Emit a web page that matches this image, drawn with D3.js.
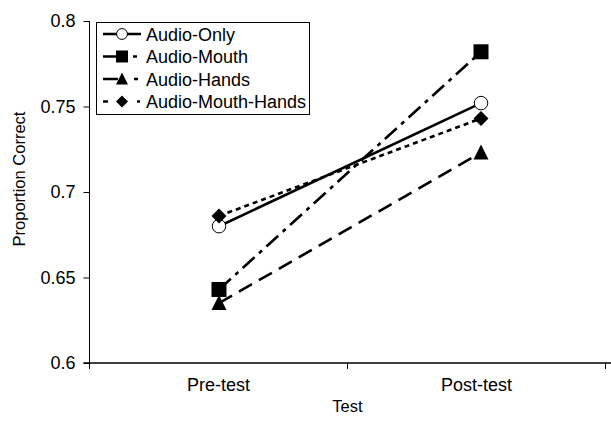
<!DOCTYPE html>
<html><head><meta charset="utf-8">
<script src="https://cdn.jsdelivr.net/npm/d3@7"></script>
<style>body{margin:0;background:#fff}svg{display:block;font-family:"Liberation Sans",Arial,sans-serif}</style>
</head><body>
<script>
const categories = ["Pre-test", "Post-test"];
const seriesNames = ["Audio-Only", "Audio-Mouth", "Audio-Hands", "Audio-Mouth-Hands"];
const audioOnly = [0.680, 0.752];
const audioMouth = [0.643, 0.782];
const audioHands = [0.635, 0.723];
const audioMouthHands = [0.686, 0.743];
const yTicks = [0.6, 0.65, 0.7, 0.75, 0.8];

const W = 611, H = 421;
const svg = d3.select("body").append("svg").attr("width", W).attr("height", H);

const plot = {left: 89.5, right: 605.5, top: 21, bottom: 363};
const y = d3.scaleLinear().domain([0.6, 0.8]).range([plot.bottom, plot.top]);
const xb = d3.scaleBand().domain(categories).range([plot.left, plot.right]);
const xp = d3.scalePoint().domain(categories).range([219, 481]);

// axes
const yAxis = d3.axisLeft(y).tickValues(yTicks).tickSize(6).tickPadding(8)
  .tickFormat(d => d3.format("")(+d.toFixed(2)));
const gy = svg.append("g").attr("transform", `translate(${plot.left},0)`).call(yAxis);
gy.select(".domain").attr("d", `M0,${plot.top}V${plot.bottom}`);
gy.selectAll("text").attr("font-size", 18).attr("font-family", "Liberation Sans, Arial, sans-serif").attr("fill", "#000");
gy.selectAll("line").attr("stroke", "#000");

const gx = svg.append("g").attr("transform", `translate(0,${plot.bottom})`);
gx.append("line").attr("x1", plot.left - 6).attr("x2", W).attr("y1", 0).attr("y2", 0).attr("stroke", "#000").attr("stroke-width", 1.3);
const bounds = categories.map(c => xb(c)).concat([xb(categories[categories.length-1]) + xb.bandwidth()]);
gx.selectAll(".tk").data(bounds).join("line").attr("x1", d => d).attr("x2", d => d)
  .attr("y1", 0).attr("y2", 6).attr("stroke", "#000");
gx.selectAll(".lb").data(categories).join("text")
  .attr("x", d => xb(d) + xb.bandwidth()/2).attr("y", 28).attr("text-anchor", "middle")
  .attr("font-size", 18).text(d => d);

svg.append("text").attr("x", (plot.left + plot.right)/2).attr("y", 412).attr("text-anchor", "middle")
  .attr("font-size", 16.5).text("Test");
svg.append("text").attr("transform", "translate(25,179) rotate(-90)").attr("text-anchor", "middle")
  .attr("font-size", 16.5).text("Proportion Correct");

const series = [
  {name: seriesNames[0], values: audioOnly, dash: null, legDash: null, marker: "circle"},
  {name: seriesNames[1], values: audioMouth, dash: "16,6,4,6", legDash: "16,14,4,30", marker: "square"},
  {name: seriesNames[2], values: audioHands, dash: "15,8", legDash: "15,16,4,30", marker: "triangle"},
  {name: seriesNames[3], values: audioMouthHands, dash: "5,4", legDash: "5,29,3,30", marker: "diamond"}
];

function drawMarker(g, type, cx, cy, s) {
  if (type === "circle") {
    g.append("circle").attr("cx", cx).attr("cy", cy).attr("r", s*0.45).attr("fill", "#fff").attr("stroke", "#000").attr("stroke-width", 1);
  } else if (type === "square") {
    g.append("rect").attr("x", cx - s/2).attr("y", cy - s/2).attr("width", s).attr("height", s).attr("fill", "#000");
  } else if (type === "triangle") {
    g.append("path").attr("d", `M${cx},${cy - s*0.55}L${cx + s/2},${cy + s*0.45}L${cx - s/2},${cy + s*0.45}Z`).attr("fill", "#000");
  } else {
    const r = s*0.5;
    g.append("path").attr("d", `M${cx},${cy - r}L${cx + r},${cy}L${cx},${cy + r}L${cx - r},${cy}Z`).attr("fill", "#000");
  }
}

const line = d3.line().x((d, i) => xp(categories[i])).y(d => y(d));
const gl = svg.append("g");
series.forEach(s => {
  gl.append("path").datum(s.values).attr("d", line).attr("fill", "none").attr("stroke", "#000")
    .attr("stroke-width", 2.6).attr("stroke-dasharray", s.dash);
});
const gm = svg.append("g");
series.forEach(s => {
  s.values.forEach((v, i) => drawMarker(gm, s.marker, xp(categories[i]), y(v), 15));
});

// legend
const lg = svg.append("g");
lg.append("rect").attr("x", 96.5).attr("y", 22.5).attr("width", 213).attr("height", 92)
  .attr("fill", "#fff").attr("stroke", "#000").attr("stroke-width", 1);
series.forEach((s, i) => {
  const cy = 34 + i * 22.5;
  lg.append("line").attr("x1", 103).attr("x2", 141).attr("y1", cy).attr("y2", cy)
    .attr("stroke", "#000").attr("stroke-width", 2.4).attr("stroke-dasharray", s.legDash);
  drawMarker(lg, s.marker, 122, cy, 12);
  lg.append("text").attr("x", 146).attr("y", cy + 6.5).attr("font-size", 18).text(s.name);
});
</script>
</body></html>
